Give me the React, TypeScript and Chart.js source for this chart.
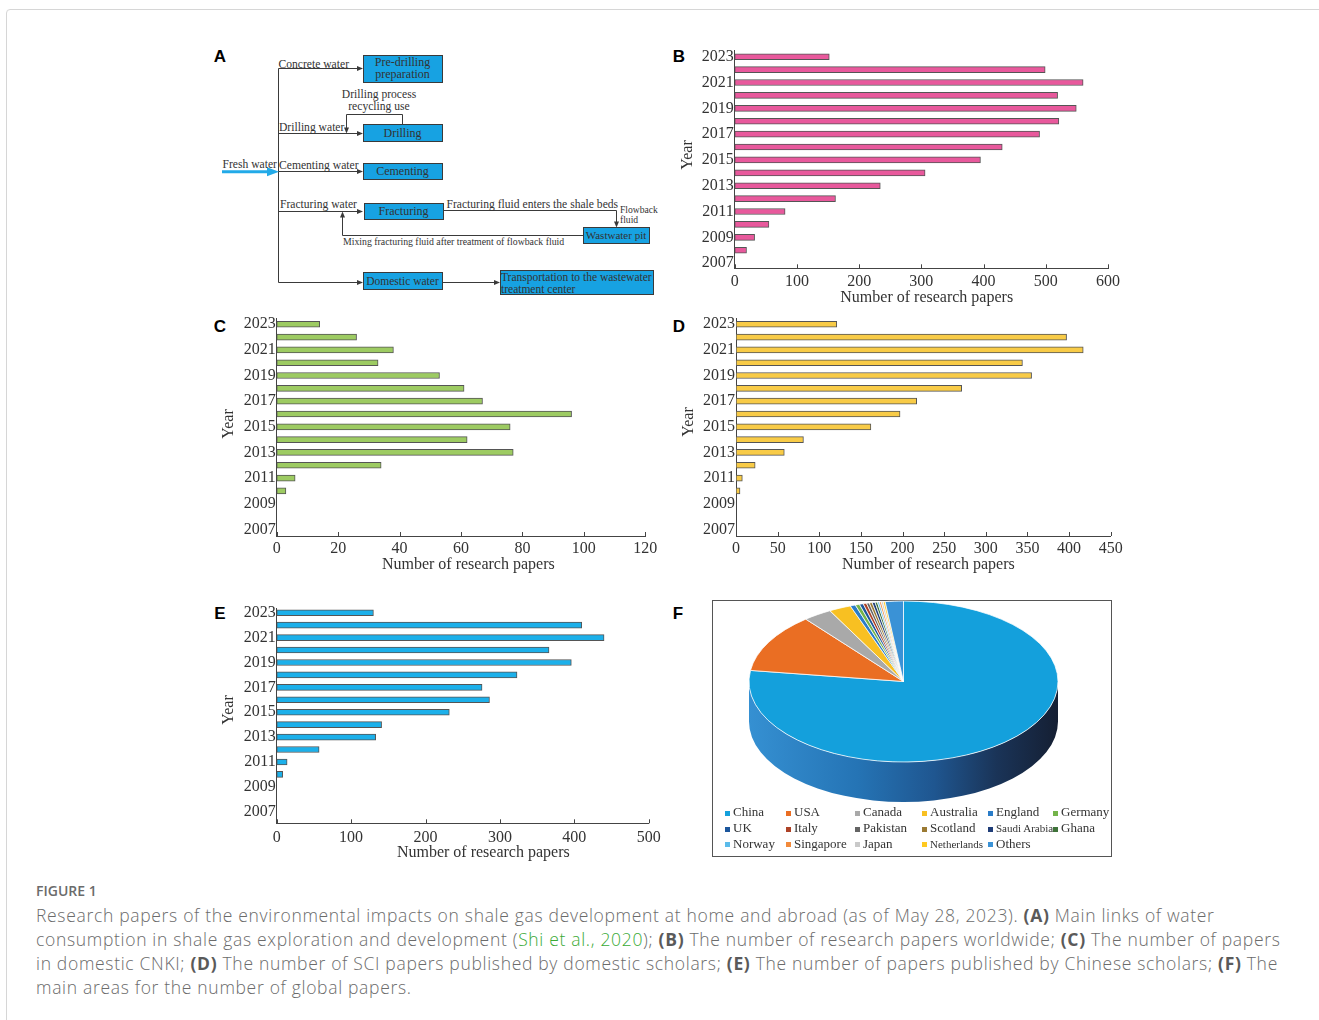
import React, { useEffect, useRef } from 'react';
import { Chart, registerables } from 'chart.js';

Chart.register(...registerables);

// ---------------- DATA ----------------
const YEARS = [2007, 2008, 2009, 2010, 2011, 2012, 2013, 2014, 2015, 2016, 2017, 2018, 2019, 2020, 2021, 2022, 2023];
const YEAR_TICKS = [2007, 2009, 2011, 2013, 2015, 2017, 2019, 2021, 2023];

// (B) worldwide
const WORLDWIDE = [0, 19, 32, 55, 81, 162, 234, 306, 395, 430, 490, 521, 549, 519, 560, 499, 152];
// (C) domestic CNKI
const CNKI = [0, 0, 0, 3, 6, 34, 77, 62, 76, 96, 67, 61, 53, 33, 38, 26, 14];
// (D) SCI papers by domestic scholars
const SCI_DOMESTIC = [0, 0, 0, 4.8, 7.6, 23, 58, 81, 162, 197, 217, 271, 355, 344, 417, 397, 121];
// (E) papers by Chinese scholars
const CHINESE_SCHOLARS = [0, 0, 0, 8, 14, 57, 133, 141, 232, 286, 276, 323, 396, 366, 440, 410, 130];

// (F) main areas (share, %)
const COUNTRIES = ['China', 'USA', 'Canada', 'Australia', 'England', 'Germany', 'UK', 'Italy', 'Pakistan', 'Scotland', 'Saudi Arabia', 'Ghana', 'Norway', 'Singapore', 'Japan', 'Netherlands', 'Others'];
const COUNTRY_SHARE = [77.2, 11.9, 3.0, 2.3, 0.55, 0.45, 0.4, 0.35, 0.3, 0.3, 0.3, 0.25, 0.2, 0.2, 0.2, 0.2, 1.9];
const COUNTRY_COLORS = ['#14a0dc', '#ea6e23', '#a9a9a9', '#f8c022', '#2a7cc8', '#74b44a', '#1c569c', '#ad4227', '#646464', '#9b7a33', '#1f3d78', '#3f733a', '#5bbbea', '#f28a3b', '#c9c9c9', '#ffc920', '#3a92d6'];

const X_TITLE = 'Number of research papers';
const Y_TITLE = 'Year';

const SERIF = '"Liberation Serif", "Times New Roman", serif';

// ---------------- PLUGINS ----------------
const decorPlugin = {
  id: 'decor',
  afterDraw(chart: any, _args: any, opts: any) {
    const { ctx, chartArea, scales } = chart;
    ctx.save();
    ctx.strokeStyle = '#444';
    ctx.lineWidth = 1;
    scales.x.ticks.forEach((t: any) => {
      const px = Math.round(scales.x.getPixelForValue(t.value)) + 0.5;
      ctx.beginPath();
      ctx.moveTo(px, chartArea.bottom);
      ctx.lineTo(px, chartArea.bottom - 4);
      ctx.stroke();
    });
    ctx.fillStyle = '#333';
    ctx.font = '16px ' + SERIF;
    ctx.textAlign = 'center';
    ctx.textBaseline = 'middle';
    ctx.fillText(opts.xTitle, opts.titleX, opts.titleY);
    ctx.translate(opts.yearX, opts.yearY);
    ctx.rotate(-Math.PI / 2);
    ctx.fillText(opts.yTitle, 0, 0);
    ctx.restore();
  },
};

const pie3dPlugin = {
  id: 'pie3d',
  beforeDatasetsDraw(chart: any, _args: any, opts: any) {
    const { ctx } = chart;
    const arc: any = chart.getDatasetMeta(0).data[0];
    const cx = arc.x;
    const cy = arc.y;
    const r = arc.outerRadius;
    const k = opts.squash;
    const ry = r * k;
    const d = opts.depth;
    ctx.save();
    const g = ctx.createLinearGradient(cx - r, 0, cx + r, 0);
    g.addColorStop(0, '#3590d2');
    g.addColorStop(0.35, '#2574b5');
    g.addColorStop(0.6, '#1f5690');
    g.addColorStop(0.8, '#1a3458');
    g.addColorStop(1, '#151f33');
    ctx.beginPath();
    ctx.moveTo(cx + r, cy);
    ctx.lineTo(cx + r, cy + d);
    ctx.ellipse(cx, cy + d, r, ry, 0, 0, Math.PI);
    ctx.lineTo(cx - r, cy);
    ctx.ellipse(cx, cy, r, ry, 0, Math.PI, 0, true);
    ctx.closePath();
    ctx.fillStyle = g;
    ctx.fill();
    ctx.restore();
    ctx.save();
    ctx.translate(cx, cy);
    ctx.scale(1, k);
    ctx.translate(-cx, -cy);
  },
  afterDatasetsDraw(chart: any) {
    chart.ctx.restore();
  },
};

// ---------------- BAR PANEL ----------------
type Geo = {
  areaLeft: number; areaRight: number; areaTop: number; areaBottom: number;
  yMin: number; yMax: number; titleX: number; titleY: number; yearX: number; yearY: number; tickPad: number;
};

function BarPanel({ geo, values, color, xMax, step }: { geo: Geo; values: number[]; color: string; xMax: number; step: number }) {
  const ref = useRef<HTMLCanvasElement>(null);
  const cl = Math.floor(geo.areaLeft - 62);
  const ct = Math.floor(geo.areaTop - 12);
  const cw = Math.ceil(geo.areaRight + 22 - cl);
  const ch = Math.ceil(geo.areaBottom + 44 - ct);
  const W = geo.areaLeft - cl;
  const padTop = geo.areaTop - ct;
  const padRight = cw - (geo.areaRight - cl);
  const H = ch - (geo.areaBottom - ct);

  useEffect(() => {
    const font = { family: SERIF, size: 16 };
    const chart = new Chart(ref.current as HTMLCanvasElement, {
      type: 'bar',
      data: {
        labels: YEARS,
        datasets: [{
          data: values,
          backgroundColor: color,
          borderColor: '#555',
          borderWidth: 1,
          borderSkipped: false,
          barThickness: 6,
        } as any],
      },
      options: {
        indexAxis: 'y',
        animation: false,
        responsive: false,
        events: [],
        layout: { padding: { left: 0, top: padTop, right: padRight, bottom: 0 } },
        plugins: {
          legend: { display: false },
          tooltip: { enabled: false },
          decor: {
            xTitle: X_TITLE, yTitle: Y_TITLE,
            titleX: geo.titleX - cl, titleY: geo.titleY - ct,
            yearX: geo.yearX - cl, yearY: geo.yearY - ct,
          },
        } as any,
        scales: {
          x: {
            type: 'linear', min: 0, max: xMax,
            ticks: { stepSize: step, font, color: '#333', padding: geo.tickPad, callback: (v: any) => String(v) },
            grid: { display: false, drawTicks: false },
            border: { display: true, color: '#444', width: 1 },
            afterFit: (s: any) => { s.height = H; },
          },
          y: {
            type: 'linear', min: geo.yMin, max: geo.yMax, offset: false,
            afterBuildTicks: (s: any) => { s.ticks = YEAR_TICKS.map((v) => ({ value: v })); },
            ticks: { font, color: '#333', padding: 1, autoSkip: false, callback: (v: any) => String(v) },
            grid: { display: false, drawTicks: false, offset: false },
            border: { display: true, color: '#444', width: 1 },
            afterFit: (s: any) => { s.width = W; },
          },
        } as any,
      },
      plugins: [decorPlugin],
    } as any);
    return () => chart.destroy();
  }, []);

  return (
    <canvas ref={ref} width={cw} height={ch}
      style={{ position: 'absolute', left: cl, top: ct, width: cw, height: ch }} />
  );
}

// ---------------- PIE PANEL ----------------
const LEGEND_COLS = [725, 786, 855, 922, 988, 1053];
const LEGEND_ROWS = [812.3, 828.3, 843.5];

function PiePanel() {
  const ref = useRef<HTMLCanvasElement>(null);
  const box = { left: 712, top: 600, width: 400, height: 257 };
  const center = { x: 903.5, y: 681.5 };
  const rx = 154.5;
  const ry = 80.5;
  const cxRel = center.x - box.left;
  const cyRel = center.y - box.top;

  useEffect(() => {
    const chart = new Chart(ref.current as HTMLCanvasElement, {
      type: 'pie',
      data: {
        labels: COUNTRIES,
        datasets: [{
          data: COUNTRY_SHARE,
          backgroundColor: COUNTRY_COLORS,
          borderColor: '#ffffff',
          borderWidth: 1,
          radius: rx,
          clip: false,
        } as any],
      },
      options: {
        animation: false,
        responsive: false,
        events: [],
        layout: { padding: { left: 0, top: 0, right: box.width - 2 * cxRel, bottom: box.height - 2 * cyRel } },
        plugins: {
          legend: { display: false },
          tooltip: { enabled: false },
          pie3d: { squash: ry / rx, depth: 40 },
        } as any,
      },
      plugins: [pie3dPlugin],
    } as any);
    return () => chart.destroy();
  }, []);

  return (
    <>
      <div style={{ position: 'absolute', left: box.left, top: box.top, width: box.width - 2, height: box.height - 2, border: '1px solid #555' }} />
      <canvas ref={ref} width={box.width} height={box.height}
        style={{ position: 'absolute', left: box.left, top: box.top, width: box.width, height: box.height }} />
      {COUNTRIES.map((name, i) => {
        const col = i % 6;
        const row = Math.floor(i / 6);
        const x = LEGEND_COLS[col];
        const y = LEGEND_ROWS[row];
        const small = name === 'Saudi Arabia' || name === 'Netherlands';
        return (
          <React.Fragment key={name}>
            <div style={{ position: 'absolute', left: x, top: y - 1.5, width: 5, height: 5, background: COUNTRY_COLORS[i] }} />
            <div style={{ position: 'absolute', left: x + 8, top: y - 8, height: 16, lineHeight: '16px', fontFamily: SERIF, fontSize: small ? 11 : 13, color: '#333', whiteSpace: 'nowrap' }}>{name}</div>
          </React.Fragment>
        );
      })}
    </>
  );
}

// ---------------- FLOW DIAGRAM (A) ----------------
function ArrowR({ x, y }: { x: number; y: number }) {
  return <polygon points={`${x - 6},${y - 2.5} ${x},${y} ${x - 6},${y + 2.5}`} fill="#3a3a3a" />;
}
function ArrowD({ x, y }: { x: number; y: number }) {
  return <polygon points={`${x - 2.5},${y - 6} ${x},${y} ${x + 2.5},${y - 6}`} fill="#3a3a3a" />;
}
function ArrowU({ x, y }: { x: number; y: number }) {
  return <polygon points={`${x - 2.5},${y + 6} ${x},${y} ${x + 2.5},${y + 6}`} fill="#3a3a3a" />;
}

function Box({ x, y, w, h }: { x: number; y: number; w: number; h: number }) {
  return <rect x={x + 0.5} y={y + 0.5} width={w} height={h} fill="#17a2e2" stroke="#3a3a3a" strokeWidth={1} />;
}

function T({ x, y, s = 11.6, anchor = 'start', children }: any) {
  return (
    <text x={x} y={y} fontSize={s} fontFamily={SERIF} fill="#333" textAnchor={anchor} dominantBaseline="central">{children}</text>
  );
}

function FlowDiagram() {
  const branchY = [68.5, 133.5, 171.5, 211.5, 282.5];
  return (
    <svg width={670} height={310} style={{ position: 'absolute', left: 0, top: 0 }}>
      <path d="M278.5 68.5 V282.5" stroke="#3a3a3a" strokeWidth={1} fill="none" />
      {branchY.map((y) => (
        <React.Fragment key={y}>
          <path d={`M278.5 ${y} H358`} stroke="#3a3a3a" strokeWidth={1} fill="none" />
          <ArrowR x={363} y={y} />
        </React.Fragment>
      ))}
      <path d="M222 171.7 H269" stroke="#22aae8" strokeWidth={3} fill="none" />
      <polygon points="267,167.2 279,171.7 267,176.2" fill="#22aae8" />
      <path d="M402.5 124 V114.5 H346.5 V128" stroke="#3a3a3a" strokeWidth={1} fill="none" />
      <ArrowD x={346.5} y={133.5} />
      <path d="M443 210.5 H616.5 V222" stroke="#3a3a3a" strokeWidth={1} fill="none" />
      <ArrowD x={616.5} y={227.5} />
      <path d="M583 235.5 H342.5 V217" stroke="#3a3a3a" strokeWidth={1} fill="none" />
      <ArrowU x={342.5} y={211.5} />
      <path d="M442 282.5 H495" stroke="#3a3a3a" strokeWidth={1} fill="none" />
      <ArrowR x={500} y={282.5} />

      <Box x={363} y={55} w={79} h={27} />
      <Box x={363} y={124} w={79} h={17} />
      <Box x={363} y={163} w={79} h={16} />
      <Box x={364} y={203} w={79} h={16} />
      <Box x={583} y={227} w={66} h={16} />
      <Box x={363} y={272} w={79} h={17} />
      <Box x={500} y={270} w={153} h={24} />

      <T x={402.5} y={62} s={12} anchor="middle">Pre-drilling</T>
      <T x={402.5} y={74} s={12} anchor="middle">preparation</T>
      <T x={402.5} y={132.5} s={12} anchor="middle">Drilling</T>
      <T x={402.5} y={171} s={12} anchor="middle">Cementing</T>
      <T x={403.5} y={211} s={12} anchor="middle">Fracturing</T>
      <T x={616} y={235} s={11} anchor="middle">Wastwater pit</T>
      <T x={402.5} y={280.5} s={11.5} anchor="middle">Domestic water</T>
      <T x={501} y={276.5} s={11.5}>Transportation to the wastewater</T>
      <T x={501} y={288.5} s={11.5}>treatment center</T>

      <T x={278.5} y={64}>Concrete water</T>
      <T x={379} y={94.3} anchor="middle">Drilling process</T>
      <T x={379} y={106} anchor="middle">recycling use</T>
      <T x={279} y={127.3}>Drilling water</T>
      <T x={222.5} y={164.3}>Fresh water</T>
      <T x={279} y={165}>Cementing water</T>
      <T x={280} y={204.7}>Fracturing water</T>
      <T x={446.5} y={204.3}>Fracturing fluid enters the shale beds</T>
      <T x={620} y={209} s={9.6}>Flowback</T>
      <T x={620} y={219} s={9.6}>fluid</T>
      <T x={343} y={241.3} s={9.8}>Mixing fracturing fluid after treatment of flowback fluid</T>
    </svg>
  );
}

// ---------------- GEOMETRY ----------------
const GEO_B: Geo = { areaLeft: 734.7, areaRight: 1108, areaTop: 50, areaBottom: 268.3, yMin: 2006.6, yMax: 2023.52, titleX: 926.7, titleY: 297.5, yearX: 688, yearY: 155, tickPad: 4 };
const GEO_C: Geo = { areaLeft: 276.7, areaRight: 645.3, areaTop: 318, areaBottom: 536, yMin: 2006.48, yMax: 2023.49, titleX: 468.3, titleY: 564.3, yearX: 228.3, yearY: 424, tickPad: 3.5 };
const GEO_D: Geo = { areaLeft: 736, areaRight: 1110.7, areaTop: 318, areaBottom: 536, yMin: 2006.48, yMax: 2023.49, titleX: 928.3, titleY: 564.3, yearX: 688.3, yearY: 422, tickPad: 3.5 };
const GEO_E: Geo = { areaLeft: 276.7, areaRight: 648.7, areaTop: 608, areaBottom: 823.3, yMin: 2006.07, yMax: 2023.38, titleX: 483.3, titleY: 853, yearX: 228.3, yearY: 710, tickPad: 4.5 };

function PanelLabel({ x, y, children }: any) {
  return (
    <div style={{ position: 'absolute', left: x - 10, top: y - 10, width: 20, height: 20, lineHeight: '20px', textAlign: 'center', fontFamily: '"Liberation Sans", Arial, sans-serif', fontWeight: 700, fontSize: 17, color: '#000' }}>{children}</div>
  );
}

function Caption() {
  const base: React.CSSProperties = { position: 'absolute', left: 36, fontFamily: '"Open Sans", "Noto Sans", sans-serif', fontSize: 17.5, letterSpacing: '0.68px', fontWeight: 300, color: '#6b6b6b', whiteSpace: 'nowrap', height: 24, lineHeight: '24px' };
  const b: React.CSSProperties = { fontWeight: 700, color: '#5a5a5a' };
  return (
    <>
      <div style={{ position: 'absolute', left: 36, top: 883, height: 16, lineHeight: '16px', fontFamily: '"Open Sans", "Noto Sans", sans-serif', fontSize: 14, fontWeight: 600, color: '#6b6b6b', whiteSpace: 'nowrap' }}>FIGURE 1</div>
      <div style={{ ...base, top: 903 }}>Research papers of the environmental impacts on shale gas development at home and abroad (as of May 28, 2023). <span style={b}>(A)</span> Main links of water</div>
      <div style={{ ...base, top: 927 }}>consumption in shale gas exploration and development (<span style={{ color: '#3aaa35' }}>Shi et al., 2020</span>); <span style={b}>(B)</span> The number of research papers worldwide; <span style={b}>(C)</span> The number of papers</div>
      <div style={{ ...base, top: 951 }}>in domestic CNKI; <span style={b}>(D)</span> The number of SCI papers published by domestic scholars; <span style={b}>(E)</span> The number of papers published by Chinese scholars; <span style={b}>(F)</span> The</div>
      <div style={{ ...base, top: 975 }}>main areas for the number of global papers.</div>
    </>
  );
}

export default function App() {
  return (
    <div style={{ position: 'absolute', left: 0, top: 0, width: 1319, height: 1020, overflow: 'hidden', background: '#fff' }}>
      <div style={{ position: 'absolute', left: 6, top: 9, width: 1330, height: 1040, border: '1px solid #d6d6d6', borderRadius: 4 }} />
      <PanelLabel x={220} y={57}>A</PanelLabel>
      <PanelLabel x={679} y={57}>B</PanelLabel>
      <PanelLabel x={220} y={327}>C</PanelLabel>
      <PanelLabel x={679} y={327}>D</PanelLabel>
      <PanelLabel x={220} y={614}>E</PanelLabel>
      <PanelLabel x={678} y={614}>F</PanelLabel>
      <FlowDiagram />
      <BarPanel geo={GEO_B} values={WORLDWIDE} color="#e8599c" xMax={600} step={100} />
      <BarPanel geo={GEO_C} values={CNKI} color="#9dcb62" xMax={120} step={20} />
      <BarPanel geo={GEO_D} values={SCI_DOMESTIC} color="#f8cb47" xMax={450} step={50} />
      <BarPanel geo={GEO_E} values={CHINESE_SCHOLARS} color="#1cb0ea" xMax={500} step={100} />
      <PiePanel />
      <Caption />
    </div>
  );
}
